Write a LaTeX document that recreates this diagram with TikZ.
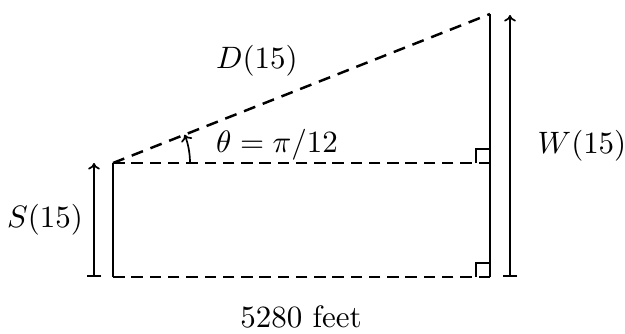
\documentclass[tikz,border=0pt]{standalone}
\usetikzlibrary{arrows.meta}
\begin{document}
\begin{tikzpicture}[x=0.323pt,y=0.323pt,
  wall/.style={line width=0.8pt},
  guide/.style={line width=0.37pt,dash pattern=on 3.7pt off 2.2pt},
  hyp/.style={line width=0.8pt,dash pattern=on 3.9pt off 2.6pt},
  dimarrow/.style={line width=0.55pt,{Bar[width=4.8pt]}-{To[length=2.1pt,width=3.8pt]}},
  anglearrow/.style={line width=0.55pt,-{To[length=2.1pt,width=3.8pt]}},
  lbl/.style={inner sep=0pt}]
\useasboundingbox (0,0) rectangle (625,333);
\coordinate (A) at (113,170);
\coordinate (B) at (113,56);
\coordinate (C) at (490,56);
\coordinate (M) at (490,170);
\coordinate (E) at (490,319);
\coordinate (LA0) at (94,56);
\coordinate (LA1) at (94,170);
\coordinate (RA0) at (510,56);
\coordinate (RA1) at (510,318);
\coordinate (ARC0) at (190,170);
% walls
\draw[wall] (B) -- (A);
\draw[wall] (C) -- (E);
% guides
\draw[guide] (M) -- (A);
\draw[guide] (C) -- (B);
% hypotenuse
\draw[hyp] (A) -- (E);
% right angle marks
\draw[line width=0.37pt] (M) ++(-14,0) -- ++(0,14) -- ++(14,0);
\draw[line width=0.37pt] (C) ++(-14,0) -- ++(0,14) -- ++(14,0);
% dimension arrows
\draw[dimarrow] (LA0) -- (LA1);
\draw[dimarrow] (RA0) -- (RA1);
% angle
\draw[anglearrow] (ARC0) arc[start angle=0,end angle=21.6,radius=77];
% labels
\node[lbl] (dl) at (257,272) {$D(15)$};
\node[lbl] (tl) at (277,188) {$\theta=\pi/12$};
\node[lbl] (sl) at (45,113) {$S(15)$};
\node[lbl] (wl) at (582,187) {$W(15)$};
\node[lbl] (fl) at (301,16) {5280 feet};
\end{tikzpicture}
\end{document}
